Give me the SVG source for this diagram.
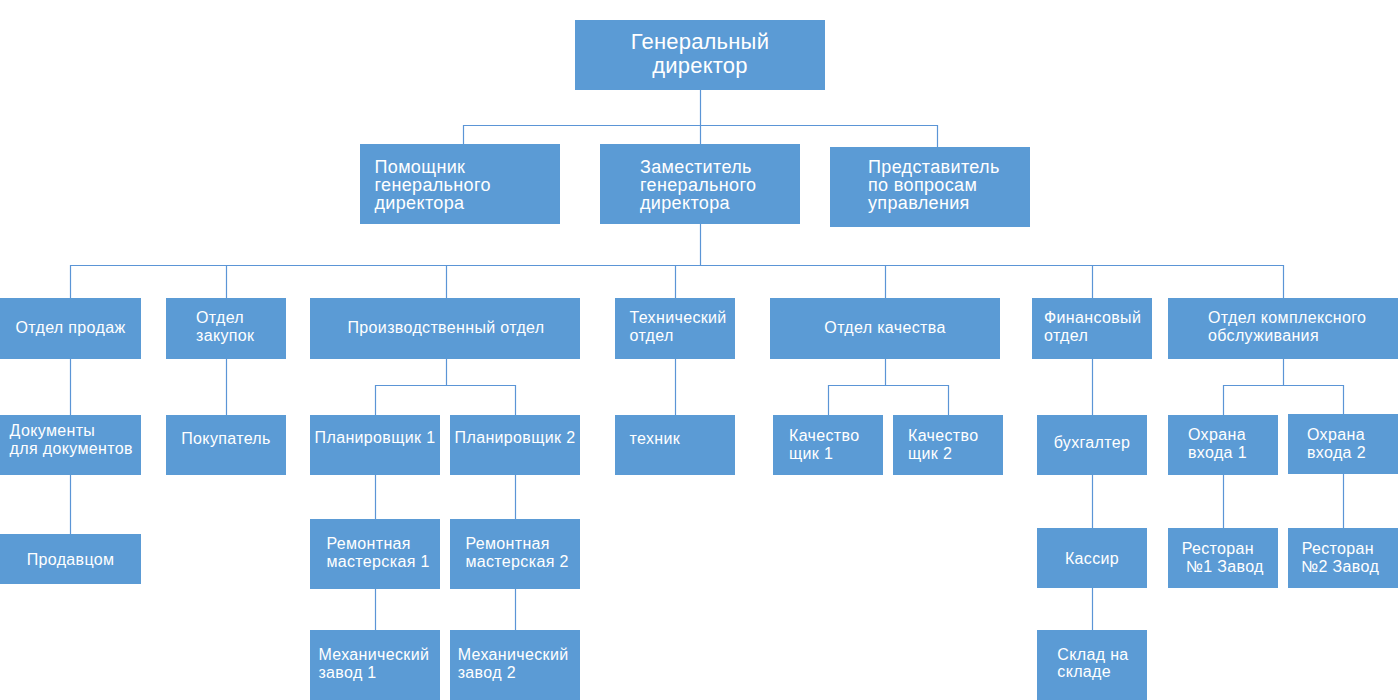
<svg xmlns="http://www.w3.org/2000/svg" width="1398" height="700" viewBox="0 0 1398 700">
<style>
rect.box{fill:#5B9BD5;}
text{fill:#FFFFFF;font-family:"Liberation Sans",Arial,sans-serif;font-size:16px;letter-spacing:0.35px;}
text.t22{font-size:22px;letter-spacing:0.2px;}
text.t18{font-size:18px;}
text.mid{text-anchor:middle;}
#connectors path{fill:none;stroke:#5B95D6;stroke-width:1.2;}
</style>
<rect width="1398" height="700" fill="#FFFFFF"/>
<g id="connectors">
<path d="M700.5,90 V125 M463,125.5 H937.5 M463.5,125 V144 M700.5,125 V144 M937.5,125 V147"/>
<path d="M700.5,224 V265 M70.5,265.5 H1283.5 M70.5,265 V298 M226.5,265 V298 M446.5,265 V298 M675.5,265 V298 M885.5,265 V298 M1092.5,265 V298 M1283.5,265 V298"/>
<path d="M70.5,359 V534 M226.5,359 V415"/>
<path d="M446.5,359 V385.5 M375.5,385.5 H515.5 M375.5,385 V415 M515.5,385 V415 M375.5,474 V630 M515.5,474 V630"/>
<path d="M675.5,359 V415"/>
<path d="M885.5,359 V385.5 M828.5,385.5 H948.5 M828.5,385 V415 M948.5,385 V415"/>
<path d="M1092.5,359 V630"/>
<path d="M1283.5,359 V385.5 M1223.5,385.5 H1343.5 M1223.5,385 V415 M1343.5,385 V414 M1223.5,474 V528 M1343.5,474 V528"/>
</g>
<g id="n-gd"><rect class="box" x="575" y="20" width="250" height="70"/><text class="t22 mid" x="700" y="49">Генеральный</text><text class="t22 mid" x="700" y="73">директор</text></g>
<g id="n-pomoshnik"><rect class="box" x="360" y="144" width="200" height="80"/><text class="t18" x="374.5" y="173">Помощник</text><text class="t18" x="374.5" y="191">генерального</text><text class="t18" x="374.5" y="209">директора</text></g>
<g id="n-zam"><rect class="box" x="600" y="144" width="200" height="80"/><text class="t18" x="640" y="173">Заместитель</text><text class="t18" x="640" y="191">генерального</text><text class="t18" x="640" y="209">директора</text></g>
<g id="n-pred"><rect class="box" x="830" y="147" width="200" height="80"/><text class="t18" x="868" y="173">Представитель</text><text class="t18" x="868" y="191">по вопросам</text><text class="t18" x="868" y="209">управления</text></g>
<g id="n-prodazh"><rect class="box" x="0" y="298" width="141" height="61"/><text class="mid" x="70.5" y="333">Отдел продаж</text></g>
<g id="n-zakup"><rect class="box" x="166" y="298" width="120" height="61"/><text x="196" y="323">Отдел</text><text x="196" y="341">закупок</text></g>
<g id="n-proizv"><rect class="box" x="310" y="298" width="270" height="61"/><text class="mid" x="446" y="333">Производственный отдел</text></g>
<g id="n-tech"><rect class="box" x="615" y="298" width="120" height="61"/><text x="629.5" y="323">Технический</text><text x="629.5" y="341">отдел</text></g>
<g id="n-kach"><rect class="box" x="770" y="298" width="230" height="61"/><text class="mid" x="885" y="333">Отдел качества</text></g>
<g id="n-fin"><rect class="box" x="1032" y="298" width="120" height="61"/><text x="1044" y="323">Финансовый</text><text x="1044" y="341">отдел</text></g>
<g id="n-kompl"><rect class="box" x="1168" y="298" width="230" height="61"/><text x="1208" y="323">Отдел комплексного</text><text x="1208" y="341">обслуживания</text></g>
<g id="n-docs"><rect class="box" x="0" y="415" width="141" height="60"/><text x="9.6" y="436">Документы</text><text x="9.6" y="454">для документов</text></g>
<g id="n-pokup"><rect class="box" x="166" y="415" width="120" height="60"/><text class="mid" x="226" y="444">Покупатель</text></g>
<g id="n-plan1"><rect class="box" x="310" y="415" width="130" height="60"/><text class="mid" x="375" y="443">Планировщик 1</text></g>
<g id="n-plan2"><rect class="box" x="450" y="415" width="130" height="60"/><text class="mid" x="515" y="443">Планировщик 2</text></g>
<g id="n-technik"><rect class="box" x="615" y="415" width="120" height="60"/><text x="629.5" y="444">техник</text></g>
<g id="n-kach1"><rect class="box" x="773" y="415" width="110" height="60"/><text x="789" y="441">Качество</text><text x="789" y="459">щик 1</text></g>
<g id="n-kach2"><rect class="box" x="893" y="415" width="110" height="60"/><text x="908" y="441">Качество</text><text x="908" y="459">щик 2</text></g>
<g id="n-buh"><rect class="box" x="1037" y="415" width="110" height="60"/><text class="mid" x="1092" y="448">бухгалтер</text></g>
<g id="n-ohr1"><rect class="box" x="1168" y="415" width="110" height="60"/><text x="1188" y="440">Охрана</text><text x="1188" y="458">входа 1</text></g>
<g id="n-ohr2"><rect class="box" x="1288" y="414" width="110" height="60"/><text x="1307" y="440">Охрана</text><text x="1307" y="458">входа 2</text></g>
<g id="n-prodavcom"><rect class="box" x="0" y="534" width="141" height="50"/><text class="mid" x="70.5" y="565">Продавцом</text></g>
<g id="n-rem1"><rect class="box" x="310" y="519" width="130" height="70"/><text x="326.4" y="549">Ремонтная</text><text x="326.4" y="567">мастерская 1</text></g>
<g id="n-rem2"><rect class="box" x="450" y="519" width="130" height="70"/><text x="465.4" y="549">Ремонтная</text><text x="465.4" y="567">мастерская 2</text></g>
<g id="n-kassir"><rect class="box" x="1037" y="528" width="110" height="60"/><text class="mid" x="1092" y="564">Кассир</text></g>
<g id="n-rest1"><rect class="box" x="1168" y="528" width="110" height="60"/><text x="1181.7" y="554">Ресторан</text><text x="1185.7" y="572">№1 Завод</text></g>
<g id="n-rest2"><rect class="box" x="1288" y="528" width="110" height="60"/><text x="1301.7" y="554">Ресторан</text><text x="1301" y="572">№2 Завод</text></g>
<g id="n-meh1"><rect class="box" x="310" y="630" width="130" height="70"/><text x="318.4" y="660">Механический</text><text x="318.4" y="678">завод 1</text></g>
<g id="n-meh2"><rect class="box" x="450" y="630" width="130" height="70"/><text x="457.7" y="660">Механический</text><text x="457.7" y="678">завод 2</text></g>
<g id="n-sklad"><rect class="box" x="1037" y="630" width="110" height="70"/><text x="1057.3" y="660">Склад на</text><text x="1057.3" y="677">складе</text></g>
</svg>
